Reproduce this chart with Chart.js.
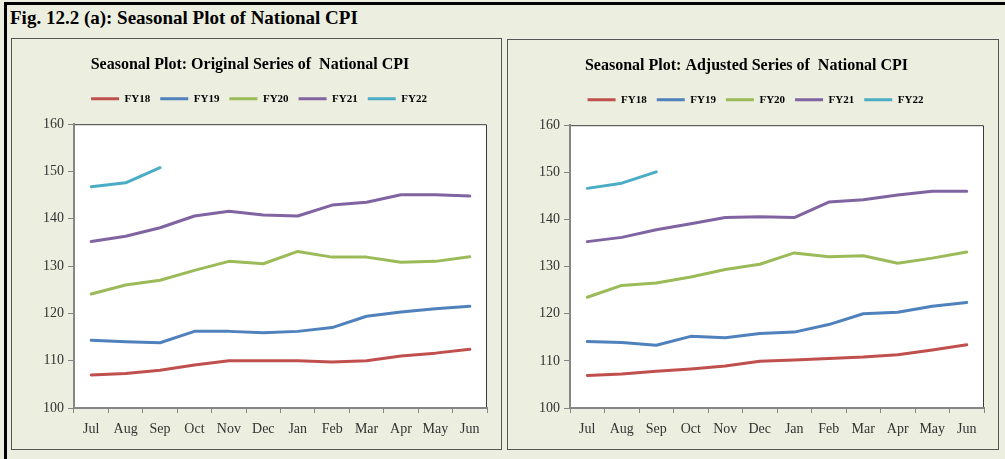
<!DOCTYPE html>
<html>
<head>
<meta charset="utf-8">
<script src="https://cdn.jsdelivr.net/npm/chart.js@4.4.0/dist/chart.umd.min.js"></script>
<style>
  html, body { margin:0; padding:0; width:1005px; height:459px; overflow:hidden; background:#eceedf; }
  #frame { position:absolute; left:4px; top:2px; width:1020px; height:480px; border:3px solid #000; box-sizing:border-box; background:#eceedf; }
  #figTitle { position:absolute; left:10px; top:7px; font-family:"Liberation Serif", serif; font-weight:bold; font-size:19px; color:#000; white-space:nowrap; }
  .panel { position:absolute; border:1.5px solid #555; box-sizing:border-box; background:#eceedf; }
  canvas { position:absolute; }
</style>
</head>
<body>
<div id="frame"></div>
<div id="figTitle">Fig. 12.2 (a): Seasonal Plot of National CPI</div>
<div class="panel" style="left:11px; top:38px; width:491px; height:412px;"></div>
<div class="panel" style="left:507px; top:39px; width:492px; height:411px;"></div>
<canvas id="c1" width="487" height="408" style="left:13px; top:40px;"></canvas>
<canvas id="c2" width="488" height="407" style="left:509px; top:41px;"></canvas>
<script>
// ---- data ----
const months = ['Jul','Aug','Sep','Oct','Nov','Dec','Jan','Feb','Mar','Apr','May','Jun'];
const seriesNames = ['FY18','FY19','FY20','FY21','FY22'];

const origFY18 = [107.0,107.3,108.0,109.1,110.0,110.0,110.0,109.7,110.0,111.0,111.6,112.4];
const origFY19 = [114.3,114.0,113.8,116.2,116.2,115.9,116.2,117.0,119.4,120.3,121.0,121.5];
const origFY20 = [124.1,126.0,127.0,129.1,131.0,130.5,133.1,131.9,131.9,130.8,131.0,132.0];
const origFY21 = [135.2,136.3,138.1,140.6,141.6,140.8,140.6,142.9,143.5,145.1,145.1,144.8];
const origFY22 = [146.8,147.6,150.8];

const adjFY18 = [106.9,107.2,107.8,108.3,108.9,109.9,110.2,110.5,110.8,111.3,112.3,113.4];
const adjFY19 = [114.1,113.9,113.3,115.2,114.9,115.8,116.1,117.7,120.0,120.3,121.6,122.4];
const adjFY20 = [123.5,126.0,126.5,127.8,129.4,130.5,132.9,132.1,132.3,130.7,131.8,133.1];
const adjFY21 = [135.3,136.2,137.8,139.1,140.4,140.6,140.4,143.7,144.2,145.2,146.0,146.0];
const adjFY22 = [146.6,147.7,150.1];

const yTicks = [100,110,120,130,140,150,160];

// ---- styles ----
const colors = ['#c0504d','#4f81bd','#9bbb59','#8064a2','#4bacc6'];
const serif = '"Liberation Serif", "Times New Roman", serif';

const plotFrame = {
  id: 'plotFrame',
  beforeDraw(chart) {
    const {ctx, chartArea: a} = chart;
    ctx.save();
    ctx.fillStyle = '#ffffff';
    ctx.fillRect(a.left, a.top, a.right - a.left, a.bottom - a.top);
    ctx.strokeStyle = '#3a3a3a';
    ctx.lineWidth = 1;
    ctx.beginPath();
    ctx.moveTo(a.left, a.top + 0.5);
    ctx.lineTo(a.right - 0.5, a.top + 0.5);
    ctx.lineTo(a.right - 0.5, a.bottom);
    ctx.stroke();
    ctx.restore();
  }
};

// adds space below the legend and nudges it horizontally
const legendSpacing = {
  id: 'legendSpacing',
  beforeLayout(chart) {
    const lg = chart.legend;
    if (lg && !lg._patched) {
      const orig = lg.fit;
      lg.fit = function () { orig.call(this); this.height += 10; };
      lg._patched = true;
    }
  },
  afterLayout(chart) {
    const lg = chart.legend;
    if (lg) { lg.left += 9; lg.right += 9; }
  }
};

function makeChart(id, title, arrays) {
  const datasets = arrays.map((d, i) => ({
    label: seriesNames[i],
    data: d,
    borderColor: colors[i],
    backgroundColor: colors[i],
    borderWidth: 3,
    borderCapStyle: 'round',
    borderJoinStyle: 'round',
    pointRadius: 0,
    pointHoverRadius: 0,
    tension: 0,
    fill: false
  }));
  return new Chart(document.getElementById(id), {
    type: 'line',
    data: { labels: months, datasets },
    plugins: [plotFrame, legendSpacing],
    options: {
      responsive: false,
      animation: false,
      events: [],
      layout: { padding: { left: 0, right: 13, top: 0, bottom: 0 } },
      plugins: {
        title: {
          display: true,
          text: title,
          color: '#000',
          font: { family: serif, size: 16, weight: 'bold' },
          padding: { top: 15, bottom: 9 }
        },
        legend: {
          display: true,
          position: 'top',
          labels: {
            usePointStyle: true,
            pointStyle: 'line',
            pointStyleWidth: 28,
            boxHeight: 3,
            padding: 10,
            color: '#000',
            font: { family: serif, size: 11, weight: 'bold' }
          }
        },
        tooltip: { enabled: false }
      },
      scales: {
        x: {
          type: 'category',
          offset: true,
          grid: { display: true, drawOnChartArea: false, offset: true, tickLength: 5, color: '#868686', lineWidth: 1 },
          border: { display: true, color: '#868686', width: 2 },
          ticks: { color: '#333', font: { family: serif, size: 14 }, padding: 8, maxRotation: 0, autoSkip: false },
          afterFit(s) { s.height = 40; }
        },
        y: {
          min: yTicks[0],
          max: yTicks[yTicks.length - 1],
          afterBuildTicks(s) { s.ticks = yTicks.map(v => ({ value: v })); },
          grid: { display: true, drawOnChartArea: false, tickLength: 6, color: '#868686', lineWidth: 1 },
          border: { display: true, color: '#868686', width: 2 },
          ticks: { color: '#333', font: { family: serif, size: 14 }, padding: 4 },
          afterFit(s) { s.width = 61; }
        }
      }
    }
  });
}

makeChart('c1', 'Seasonal Plot: Original Series of  National CPI', [origFY18, origFY19, origFY20, origFY21, origFY22]);
makeChart('c2', 'Seasonal Plot: Adjusted Series of  National CPI', [adjFY18, adjFY19, adjFY20, adjFY21, adjFY22]);
</script>
</body>
</html>
